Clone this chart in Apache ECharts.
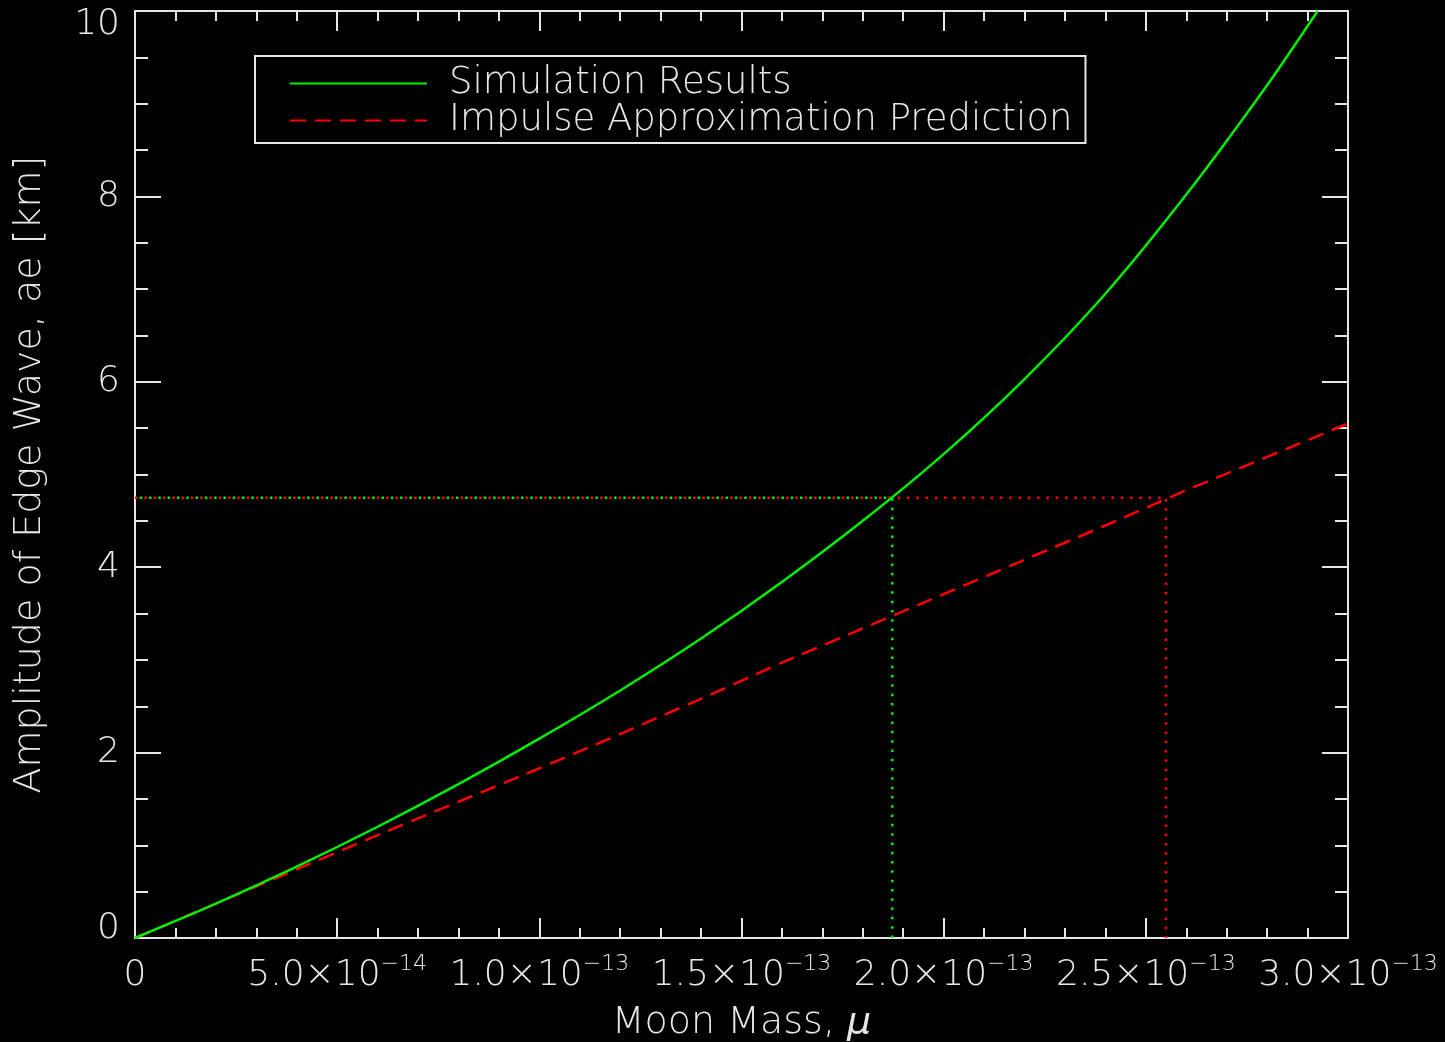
<!DOCTYPE html>
<html>
<head>
<meta charset="utf-8">
<script src="https://cdn.jsdelivr.net/npm/echarts@6/dist/echarts.min.js"></script>
<style>
  html, body { margin: 0; padding: 0; background: #000; }
  #chart { width: 1445px; height: 1042px; }
</style>
</head>
<body>
<div id="chart"></div>
<script>
// Edge-wave amplitude from the simulation runs, sampled along moon mass
const moonMass = [0, 2e-14, 4e-14, 6e-14, 8e-14, 1.0e-13, 1.2e-13, 1.4e-13, 1.6e-13,
  1.8e-13, 2.0e-13, 2.2e-13, 2.4e-13, 2.6e-13, 2.8e-13, 2.925e-13];
const simulationAmplitude = [0, 0.37, 0.77, 1.20, 1.66, 2.15, 2.67, 3.23, 3.84,
  4.50, 5.22, 6.03, 6.95, 8.02, 9.20, 10.0];

// Impulse approximation prediction
const impulseMass = [0, 2e-14, 4e-14, 6e-14, 8e-14, 1.0e-13, 1.2e-13, 1.4e-13, 1.6e-13,
  1.8e-13, 2.0e-13, 2.2e-13, 2.4e-13, 2.6e-13, 2.8e-13, 3.0e-13];
const impulseAmplitude = [0, 0.37, 0.74, 1.11, 1.47, 1.83, 2.20, 2.58, 2.97,
  3.34, 3.71, 4.08, 4.45, 4.83, 5.19, 5.55];

// Reference amplitude and the masses at which each curve reaches it
const thresholdAmplitude = 4.75;
const simulationCrossMass = 1.873e-13;
const impulseCrossMass = 2.550e-13;

// Axis tick labels
const xTickMantissa = ['0', '5.0', '1.0', '1.5', '2.0', '2.5', '3.0'];
const xTickExponent = ['', '\u221214', '\u221213', '\u221213', '\u221213', '\u221213', '\u221213'];
const yTickLabels = ['0', '2', '4', '6', '8', '10'];

const FG = '#e6e6e6';
const FONT = 'DejaVu Sans';
const GREEN = '#00f000';
const RED = '#ff0000';

const chart = echarts.init(document.getElementById('chart'), null, { renderer: 'canvas' });

const xTickIndex = v => Math.round(v / 5e-14);
const yTickIndex = v => Math.round(v / 2);

const baseX = {
  type: 'value', min: 0, max: 3e-13, interval: 5e-14, gridIndex: 0,
  axisLine: { show: true, onZero: false, lineStyle: { color: FG, width: 2 } },
  axisTick: { show: true, inside: true, length: 20, lineStyle: { color: FG, width: 2 } },
  minorTick: { show: true, splitNumber: 5, length: 10, lineStyle: { color: FG, width: 2 } },
  splitLine: { show: false }
};
const baseY = {
  type: 'value', min: 0, max: 10, interval: 2, gridIndex: 0,
  axisLine: { show: true, onZero: false, lineStyle: { color: FG, width: 2 } },
  axisTick: { show: true, inside: true, length: 26, lineStyle: { color: FG, width: 2 } },
  minorTick: { show: true, splitNumber: 4, length: 13, lineStyle: { color: FG, width: 2 } },
  splitLine: { show: false }
};

const option = {
  backgroundColor: '#000',
  animation: false,
  textStyle: { fontFamily: FONT, fontWeight: 200, color: FG },
  grid: { left: 135, right: 97, top: 11, bottom: 104, containLabel: false, outerBoundsMode: 'none' },
  legend: {
    data: ['Simulation Results', 'Impulse Approximation Prediction'],
    orient: 'vertical',
    left: 255, top: 56,
    padding: [9, 13, 4, 34],
    itemWidth: 137, itemHeight: 20, itemGap: 0,
    borderColor: FG, borderWidth: 2,
    selectedMode: false,
    itemStyle: { opacity: 0 },
    textStyle: { fontFamily: FONT, fontWeight: 200, fontSize: 37, color: FG, lineHeight: 25, padding: [0, 0, 4, 17] }
  },
  xAxis: [
    Object.assign({}, baseX, {
      position: 'bottom',
      name: '{t|Moon Mass, }{i|\u03bc}',
      nameLocation: 'middle', nameGap: 66,
      nameTextStyle: {
        rich: {
          t: { fontFamily: FONT, fontWeight: 200, fontSize: 38, color: FG },
          i: { fontFamily: FONT, fontWeight: 200, fontStyle: 'italic', fontSize: 38, color: FG }
        }
      },
      axisLabel: {
        show: true, margin: 15,
        formatter: v => {
          const k = xTickIndex(v);
          if (!xTickExponent[k]) return '{m|' + xTickMantissa[k] + '}';
          return '{m|' + xTickMantissa[k] + '\u00d710}{e|' + xTickExponent[k] + '}';
        },
        rich: {
          m: { fontFamily: FONT, fontWeight: 200, fontSize: 36, color: FG, lineHeight: 46 },
          e: { fontFamily: FONT, fontWeight: 200, fontSize: 22, color: FG, lineHeight: 22, verticalAlign: 'top' }
        }
      }
    }),
    Object.assign({}, baseX, { position: 'top', axisLabel: { show: false } })
  ],
  yAxis: [
    Object.assign({}, baseY, {
      position: 'left',
      name: 'Amplitude of Edge Wave, ae [km]',
      nameLocation: 'middle', nameGap: 86, nameRotate: 90,
      nameTextStyle: { fontFamily: FONT, fontWeight: 200, fontSize: 38, color: FG },
      axisLabel: {
        show: true, margin: 15,
        formatter: v => {
          const k = yTickIndex(v);
          if (k === yTickLabels.length - 1) return '{hi|' + yTickLabels[k] + '}';
          if (k === 0) return '{lo|' + yTickLabels[k] + '}';
          return '{n|' + yTickLabels[k] + '}';
        },
        rich: {
          n: { fontFamily: FONT, fontWeight: 200, fontSize: 36, color: FG },
          hi: { fontFamily: FONT, fontWeight: 200, fontSize: 36, color: FG, padding: [28, 0, 0, 0] },
          lo: { fontFamily: FONT, fontWeight: 200, fontSize: 36, color: FG, padding: [0, 0, 18, 0] }
        }
      }
    }),
    Object.assign({}, baseY, { position: 'right', axisLabel: { show: false } })
  ],
  series: [
    {
      name: 'impulse-threshold', type: 'line', xAxisIndex: 0, yAxisIndex: 0,
      symbol: 'none', silent: true, z: 1,
      data: [[0, thresholdAmplitude], [impulseCrossMass, thresholdAmplitude], [impulseCrossMass, 0]],
      lineStyle: { color: RED, width: 2.5, type: [2.5, 6.8] }
    },
    {
      name: 'simulation-threshold', type: 'line', xAxisIndex: 0, yAxisIndex: 0,
      symbol: 'none', silent: true, z: 1,
      data: [[0, thresholdAmplitude], [simulationCrossMass, thresholdAmplitude], [simulationCrossMass, 0]],
      lineStyle: { color: GREEN, width: 2.5, type: [2.5, 6.8], dashOffset: 4.6 }
    },
    {
      name: 'Impulse Approximation Prediction', type: 'line', xAxisIndex: 0, yAxisIndex: 0,
      symbol: 'none', z: 3, clip: true,
      data: impulseMass.map((m, i) => [m, impulseAmplitude[i]]),
      lineStyle: { color: RED, width: 2.5, type: [16, 9] },
      itemStyle: { color: RED }
    },
    {
      name: 'Simulation Results', type: 'line', xAxisIndex: 0, yAxisIndex: 0,
      symbol: 'none', z: 4, clip: true, smooth: 0.3,
      data: moonMass.map((m, i) => [m, simulationAmplitude[i]]),
      lineStyle: { color: GREEN, width: 2.5 },
      itemStyle: { color: GREEN }
    }
  ]
};

chart.setOption(option);
</script>
</body>
</html>
